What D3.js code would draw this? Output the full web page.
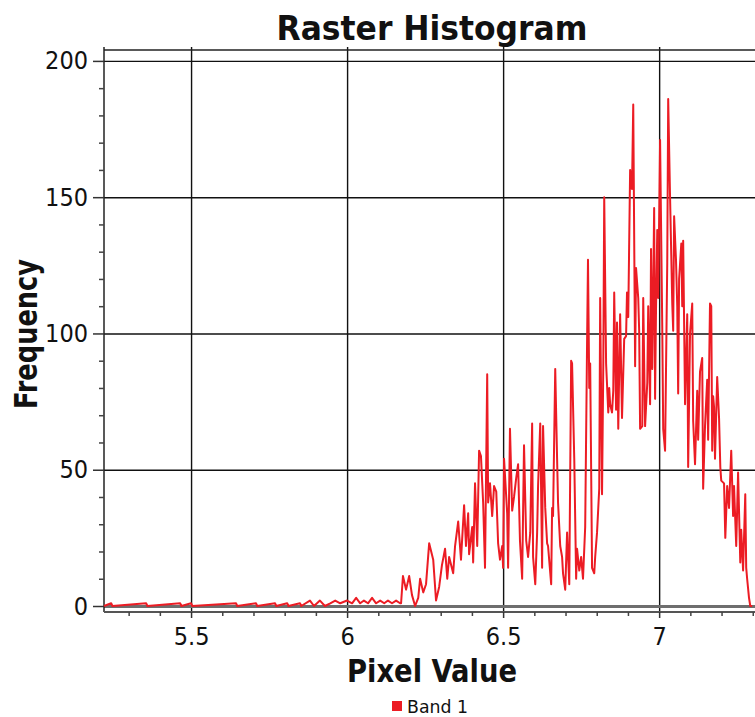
<!DOCTYPE html>
<html>
<head>
<meta charset="utf-8">
<script src="https://cdn.jsdelivr.net/npm/d3@7/dist/d3.min.js"></script>
<style>
  html, body { margin: 0; padding: 0; background: #ffffff; }
  svg { display: block; }
  text { font-family: "DejaVu Sans Condensed", "DejaVu Sans", sans-serif; fill: #111; }
</style>
</head>
<body>
<svg id="chart" width="755" height="717"></svg>
<script>
// ---- data ----
const pixelValues = [
  5.221, 5.244, 5.248, 5.356, 5.360, 5.465, 5.469, 5.500, 5.504, 5.644, 5.648, 5.708, 5.712,
  5.769, 5.773, 5.808, 5.812, 5.849, 5.853, 5.881, 5.894, 5.913, 5.929, 5.946, 5.962, 5.978,
  6.000, 6.016, 6.029, 6.042, 6.054, 6.067, 6.080, 6.093, 6.106, 6.119, 6.131, 6.144, 6.157, 6.170,
  6.173, 6.179, 6.189, 6.199, 6.208, 6.218, 6.228, 6.234, 6.244, 6.253, 6.263, 6.276, 6.285, 6.295,
  6.304, 6.314, 6.321, 6.327, 6.340, 6.346, 6.356, 6.365, 6.375, 6.381, 6.388, 6.391, 6.401, 6.404,
  6.410, 6.417, 6.423, 6.429, 6.436, 6.442, 6.449, 6.452, 6.458, 6.465, 6.471, 6.478, 6.484, 6.490,
  6.497, 6.500, 6.503, 6.513, 6.516, 6.522, 6.529, 6.535, 6.542, 6.548, 6.554, 6.561, 6.567, 6.574,
  6.580, 6.587, 6.593, 6.596, 6.603, 6.609, 6.612, 6.619, 6.625, 6.628, 6.635, 6.641, 6.644, 6.654,
  6.657, 6.660, 6.667, 6.673, 6.676, 6.683, 6.689, 6.692, 6.699, 6.705, 6.712, 6.718, 6.721, 6.728,
  6.734, 6.737, 6.744, 6.750, 6.756, 6.763, 6.769, 6.772, 6.776, 6.779, 6.785, 6.792, 6.795, 6.801,
  6.808, 6.811, 6.817, 6.821, 6.824, 6.830, 6.837, 6.840, 6.843, 6.849, 6.853, 6.856, 6.862, 6.865,
  6.869, 6.875, 6.881, 6.888, 6.894, 6.897, 6.901, 6.907, 6.913, 6.917, 6.923, 6.926, 6.933, 6.936,
  6.939, 6.946, 6.949, 6.955, 6.962, 6.965, 6.971, 6.974, 6.978, 6.984, 6.987, 6.990, 6.994, 6.997,
  7.003, 7.010, 7.013, 7.019, 7.026, 7.029, 7.035, 7.042, 7.045, 7.048, 7.054, 7.058, 7.061, 7.064,
  7.071, 7.074, 7.077, 7.083, 7.090, 7.093, 7.099, 7.106, 7.109, 7.115, 7.122, 7.125, 7.131, 7.138,
  7.141, 7.147, 7.154, 7.157, 7.163, 7.167, 7.170, 7.173, 7.176, 7.179, 7.186, 7.192, 7.196, 7.199,
  7.208, 7.212, 7.218, 7.224, 7.231, 7.237, 7.240, 7.247, 7.253, 7.260, 7.263, 7.269, 7.276, 7.279,
  7.282, 7.288, 7.292, 7.298
];
const frequency = [
  0, 1, 0, 1, 0, 1, 0, 1, 0, 1, 0, 1, 0,
  1, 0, 1, 0, 1, 0, 2, 0, 2, 0, 1, 2, 1,
  2, 1, 3, 1, 2, 1, 3, 1, 2, 1, 2, 1, 2, 1,
  1, 11, 6, 11, 4, 0, 3, 10, 5, 8, 23, 17, 2, 7,
  15, 21, 10, 18, 12, 22, 31, 17, 37, 22, 34, 19, 29, 16,
  45, 22, 57, 55, 38, 14, 85, 38, 45, 33, 44, 42, 23, 17,
  22, 14, 54, 34, 14, 65, 35, 40, 47, 52, 24, 10, 59, 24,
  18, 27, 67, 18, 8, 27, 44, 67, 14, 66, 36, 23, 22, 8,
  36, 33, 87, 54, 38, 22, 18, 12, 6, 27, 8, 90, 89, 54,
  10, 21, 13, 18, 10, 29, 96, 127, 80, 89, 14, 12, 18, 27,
  43, 113, 41, 88, 150, 89, 71, 80, 74, 71, 79, 115, 72, 104,
  65, 107, 69, 98, 99, 115, 106, 160, 153, 184, 88, 124, 113, 101,
  65, 66, 113, 66, 82, 110, 74, 131, 87, 146, 76, 109, 138, 113,
  171, 102, 65, 57, 126, 186, 150, 111, 101, 143, 127, 110, 78, 120,
  133, 110, 134, 74, 107, 51, 100, 111, 68, 52, 79, 61, 86, 91,
  43, 66, 83, 61, 111, 110, 57, 77, 73, 54, 84, 69, 51, 46,
  45, 25, 44, 36, 57, 33, 44, 22, 49, 16, 28, 13, 41, 14,
  10, 3, 0, 0
];
const seriesName = "Band 1";
const yMajorTicks = [0, 50, 100, 150, 200];
const yMinorTicks = [10, 20, 30, 40, 60, 70, 80, 90, 110, 120, 130, 140, 160, 170, 180, 190];
const xMajorTicks = [5.5, 6, 6.5, 7];
const xMinorTicks = [5.3, 5.4, 5.6, 5.7, 5.8, 5.9, 6.1, 6.2, 6.3, 6.4, 6.6, 6.7, 6.8, 6.9, 7.1, 7.2, 7.3];
const titleText = "Raster Histogram";
const xTitle = "Pixel Value";
const yTitle = "Frequency";

// ---- drawing ----
const svg = d3.select("#chart");
const L = 104, R = 759, T = 50, B = 612;
const x = d3.scaleLinear().domain([5.221, 7.32]).range([L, R]);
const y = d3.scaleLinear().domain([-2.2, 204]).range([B, T]);
const FONT = "DejaVu Sans Condensed, DejaVu Sans, sans-serif";

// grid lines (horizontal)
const gy = svg.append("g").attr("transform", `translate(${L},0)`)
  .call(d3.axisLeft(y).tickValues(yMajorTicks.filter(v => v !== 0)).tickSize(-(R - L)).tickFormat(""));
gy.select(".domain").remove();
gy.selectAll("line").attr("stroke", "#111").attr("stroke-width", 1.4);

// vertical grid
const gx = svg.append("g").attr("transform", `translate(0,${B})`)
  .call(d3.axisBottom(x).tickValues(xMajorTicks).tickSize(-(B - T) - 3).tickFormat(""));
gx.select(".domain").remove();
gx.selectAll("line").attr("stroke", "#111").attr("stroke-width", 1.4);

// zero line
const gz = svg.append("g").attr("transform", `translate(${L},0)`)
  .call(d3.axisLeft(y).tickValues([0]).tickSize(-(R - L)).tickFormat(""));
gz.select(".domain").remove();
gz.selectAll("line").attr("stroke", "#6e6e6e").attr("stroke-width", 3);

// frame
svg.append("line").attr("x1", L).attr("x2", R).attr("y1", T).attr("y2", T).attr("stroke", "#222").attr("stroke-width", 1.5);
svg.append("line").attr("x1", L).attr("x2", L).attr("y1", T - 3).attr("y2", B).attr("stroke", "#222").attr("stroke-width", 1.5);
svg.append("line").attr("x1", L).attr("x2", R).attr("y1", B).attr("y2", B).attr("stroke", "#555").attr("stroke-width", 2);

// y axis: major ticks + labels
const ya = svg.append("g").attr("transform", `translate(${L},0)`)
  .call(d3.axisLeft(y).tickValues(yMajorTicks).tickSize(11).tickPadding(5).tickFormat(d3.format("d")));
ya.select(".domain").remove();
ya.selectAll("line").attr("stroke", "#333").attr("stroke-width", 1.5);
ya.selectAll("text").attr("font-size", 25).attr("font-family", FONT).attr("fill", "#111");

const ym = svg.append("g").attr("transform", `translate(${L},0)`)
  .call(d3.axisLeft(y).tickValues(yMinorTicks).tickSize(5).tickFormat(""));
ym.select(".domain").remove();
ym.selectAll("line").attr("stroke", "#444").attr("stroke-width", 1.5);

// x axis
const xa = svg.append("g").attr("transform", `translate(0,${B})`)
  .call(d3.axisBottom(x).tickValues(xMajorTicks).tickSize(6).tickPadding(9).tickFormat(d => String(d)));
xa.select(".domain").remove();
xa.selectAll("line").attr("stroke", "#333").attr("stroke-width", 1.5);
xa.selectAll("text").attr("font-size", 25).attr("font-family", FONT).attr("fill", "#111");

const xm = svg.append("g").attr("transform", `translate(0,${B})`)
  .call(d3.axisBottom(x).tickValues(xMinorTicks).tickSize(4).tickFormat(""));
xm.select(".domain").remove();
xm.selectAll("line").attr("stroke", "#444").attr("stroke-width", 1.5);

// series line
const pts = pixelValues.map((v, i) => [v, frequency[i]]);
svg.append("path")
  .datum(pts)
  .attr("fill", "none")
  .attr("stroke", "#ec1c24")
  .attr("stroke-width", 2)
  .attr("stroke-linejoin", "round")
  .attr("d", d3.line().x(d => x(d[0])).y(d => y(d[1])));

// titles
svg.append("text").attr("x", 432).attr("y", 40).attr("text-anchor", "middle")
  .attr("font-size", 33).attr("font-weight", "bold")
  .attr("textLength", 311).attr("lengthAdjust", "spacingAndGlyphs")
  .text(titleText);
svg.append("text").attr("x", 432).attr("y", 682).attr("text-anchor", "middle")
  .attr("font-size", 32).attr("font-weight", "bold")
  .attr("textLength", 170).attr("lengthAdjust", "spacingAndGlyphs")
  .text(xTitle);
svg.append("text").attr("transform", "translate(37,334) rotate(-90)").attr("text-anchor", "middle")
  .attr("font-size", 32).attr("font-weight", "bold")
  .attr("textLength", 150).attr("lengthAdjust", "spacingAndGlyphs")
  .text(yTitle);

// legend
svg.append("rect").attr("x", 392).attr("y", 701).attr("width", 10).attr("height", 10).attr("fill", "#ec1c24");
svg.append("text").attr("x", 407).attr("y", 713).attr("font-size", 18)
  .attr("textLength", 61).attr("lengthAdjust", "spacingAndGlyphs")
  .text(seriesName);
</script>
</body>
</html>
